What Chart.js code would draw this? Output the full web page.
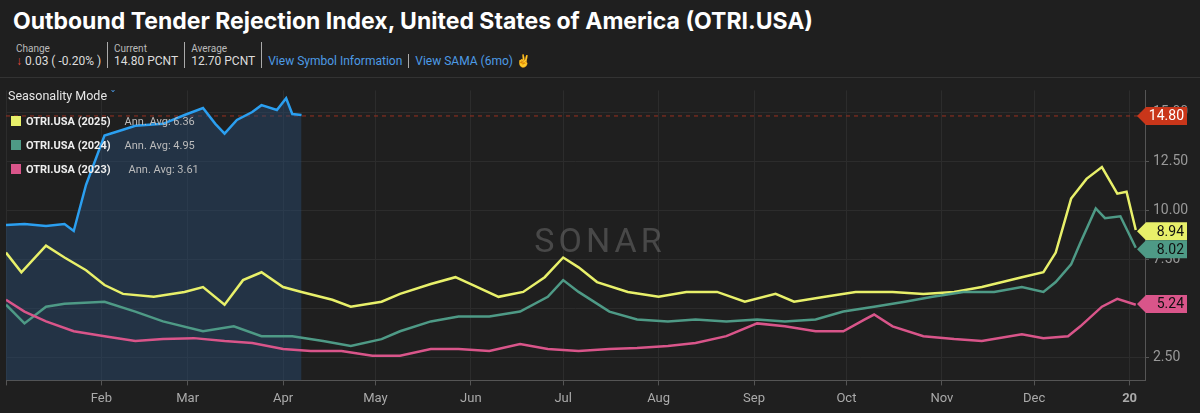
<!DOCTYPE html>
<html><head><meta charset="utf-8">
<script src="https://cdn.jsdelivr.net/npm/chart.js@4"></script>
<style>
body{margin:0;background:#1f1f1f;font-family:Roboto,"Noto Sans",sans-serif;color:#ddd;width:1200px;height:413px;overflow:hidden;position:relative}
#title{position:absolute;left:13px;top:7px;font-size:23px;font-weight:bold;color:#fff;font-family:Inter,Roboto,sans-serif}
#stats{position:absolute;left:16px;top:42px;font-size:12px;display:flex;align-items:flex-end}
.st{line-height:13px;padding-right:6px;margin-right:6px;border-right:1px solid #aaa}
.st small{font-size:10px;color:#bbb;display:block}
.lnk{color:#4d9be6;font-size:12px;padding-right:6px;margin-right:6px;border-right:1px solid #aaa;line-height:14px}
#sep{position:absolute;left:0;right:0;top:77px;border-top:1px solid #333}
#wrap{position:absolute;left:0;top:78px;width:1200px;height:335px}
#legend{position:absolute;left:8px;top:88px;font-size:11.5px;z-index:2}
#legend .h{font-size:12.5px;color:#e6e6e6;margin-bottom:6px}
#legend .r{display:flex;align-items:center;height:24px;font-weight:bold;color:#eee;font-size:11px}
#legend .sw{width:10px;height:10px;margin-right:5px;margin-left:3px}
#legend .a{font-weight:normal;color:#bbb;margin-left:14px}
</style></head><body>
<div id="title">Outbound Tender Rejection Index, United States of America (OTRI.USA)</div>
<div id="stats">
 <div class="st"><small>Change</small><span style="color:#e0473a">&#8595;</span> 0.03 ( -0.20% )</div>
 <div class="st"><small>Current</small>14.80 PCNT</div>
 <div class="st"><small>Average</small>12.70 PCNT</div>
 <div class="lnk">View Symbol Information</div>
 <div class="lnk" style="border:none">View SAMA (6mo) <span style="color:#e8d21d">&#9996;</span></div>
</div>
<div id="sep"></div>
<div id="legend">
 <div class="h">Seasonality Mode <span style="color:#4d9be6">&#711;</span></div>
 <div class="r"><div class="sw" style="background:#e8f06a"></div>OTRI.USA (2025)<span class="a">Ann. Avg: 6.36</span></div>
 <div class="r"><div class="sw" style="background:#4e9a86"></div>OTRI.USA (2024)<span class="a">Ann. Avg: 4.95</span></div>
 <div class="r"><div class="sw" style="background:#d9558a"></div>OTRI.USA (2023)<span class="a" style="margin-left:18px">Ann. Avg: 3.61</span></div>
</div>
<div id="wrap"><canvas id="c"></canvas></div>
<script>
const monthDays = [0, 31, 59, 90, 120, 151, 181, 212, 243, 273, 304, 334, 365];
const monthLabels = ['', 'Feb', 'Mar', 'Apr', 'May', 'Jun', 'Jul', 'Aug', 'Sep', 'Oct', 'Nov', 'Dec', '20'];
const yTicks = [2.5, 5, 7.5, 10, 12.5, 15];

const currentDays = [0, 6, 13, 19, 22, 26, 32, 38, 42, 51, 58, 64, 68, 71, 75, 80, 83, 88, 91, 93, 96];
const currentVals = [9.25, 9.3, 9.2, 9.3, 8.95, 11.3, 13.8, 14.1, 14.3, 14.4, 14.85, 15.2, 14.4, 13.9, 14.6, 15.0, 15.35, 15.1, 15.7, 14.9, 14.85];

const days2025 = [0, 5, 13, 19, 26, 32, 38, 48, 58, 64, 71, 77, 83, 90, 96, 106, 112, 122, 128, 138, 146, 151, 160, 168, 175, 181, 186, 192, 202, 212, 221, 231, 240, 250, 256, 266, 276, 288, 298, 308, 317, 330, 337, 341, 346, 351, 356, 361, 364, 367];
const vals2025 = [7.85, 6.85, 8.2, 7.6, 6.95, 6.2, 5.75, 5.6, 5.85, 6.1, 5.2, 6.45, 6.85, 6.1, 5.85, 5.45, 5.1, 5.35, 5.75, 6.25, 6.6, 6.25, 5.6, 5.85, 6.6, 7.6, 7.1, 6.35, 5.85, 5.6, 5.85, 5.85, 5.35, 5.75, 5.35, 5.6, 5.85, 5.85, 5.75, 5.85, 6.1, 6.6, 6.85, 7.85, 10.6, 11.6, 12.2, 10.85, 10.95, 9.0];

const days2024 = [0, 6, 13, 19, 32, 42, 51, 64, 74, 83, 93, 103, 112, 122, 128, 138, 147, 157, 167, 176, 181, 186, 196, 205, 215, 224, 234, 244, 253, 263, 272, 282, 292, 301, 311, 321, 330, 337, 341, 346, 349, 354, 357, 362, 367];
const vals2024 = [5.2, 4.25, 5.1, 5.25, 5.35, 4.85, 4.35, 3.85, 4.1, 3.6, 3.6, 3.35, 3.1, 3.45, 3.85, 4.35, 4.6, 4.6, 4.85, 5.6, 6.45, 5.85, 4.85, 4.45, 4.35, 4.45, 4.35, 4.45, 4.35, 4.45, 4.85, 5.1, 5.35, 5.6, 5.85, 5.85, 6.1, 5.85, 6.35, 7.25, 8.35, 10.1, 9.6, 9.7, 8.1];

const days2023 = [0, 6, 13, 22, 32, 42, 51, 61, 71, 80, 90, 99, 109, 119, 128, 138, 147, 157, 167, 176, 186, 196, 205, 215, 224, 234, 244, 253, 263, 272, 279, 282, 288, 298, 308, 317, 330, 337, 345, 349, 356, 361, 367];
const vals2023 = [5.45, 4.85, 4.35, 3.85, 3.6, 3.35, 3.45, 3.5, 3.35, 3.25, 2.95, 2.85, 2.85, 2.6, 2.6, 2.95, 2.95, 2.85, 3.2, 2.95, 2.85, 2.95, 3.0, 3.1, 3.25, 3.6, 4.25, 4.1, 3.85, 3.85, 4.45, 4.7, 4.1, 3.6, 3.45, 3.35, 3.7, 3.5, 3.6, 4.1, 5.1, 5.5, 5.2];

const tags = [
    { value: 14.80, bg: '#c9361a', fg: '#fff', label: '14.80' },
    { value: 8.94, bg: '#e8f06a', fg: '#111', label: '8.94' },
    { value: 8.02, bg: '#4e9a86', fg: '#111', label: '8.02' },
    { value: 5.24, bg: '#d9558a', fg: '#111', label: '5.24' }
];

const pts = (d, v) => d.map((x, i) => ({ x, y: v[i] }));

const overlay = {
    id: 'overlay',
    beforeDatasetsDraw(chart) {
        const { ctx, chartArea: a, scales: { y } } = chart;
        ctx.save();
        ctx.font = '34px Roboto, sans-serif';
        ctx.fillStyle = 'rgba(150,150,150,0.35)';
        ctx.textAlign = 'center';
        ctx.textBaseline = 'middle';
        ctx.letterSpacing = '4px';
        ctx.fillText('SONAR', 600, 165);
        ctx.restore();
        ctx.save();
        ctx.strokeStyle = '#9a3020';
        ctx.setLineDash([4, 4]);
        const py = y.getPixelForValue(14.8);
        ctx.beginPath(); ctx.moveTo(a.left, py); ctx.lineTo(a.right, py); ctx.stroke();
        ctx.restore();
    },
    afterDraw(chart) {
        const { ctx, chartArea: a, scales: { y } } = chart;
        ctx.save();
        ctx.font = '14px Roboto, sans-serif';
        ctx.textBaseline = 'middle';
        tags.forEach(t => {
            const py = y.getPixelForValue(t.value);
            const x0 = a.right - 8, w = 50, h = 18;
            ctx.fillStyle = t.bg;
            ctx.beginPath();
            ctx.moveTo(x0, py);
            ctx.lineTo(x0 + 9, py - h / 2);
            ctx.lineTo(x0 + w, py - h / 2);
            ctx.lineTo(x0 + w, py + h / 2);
            ctx.lineTo(x0 + 9, py + h / 2);
            ctx.closePath();
            ctx.fill();
            ctx.fillStyle = t.fg;
            ctx.textAlign = 'right';
            ctx.fillText(t.label, x0 + w - 3, py + 1);
        });
        ctx.restore();
    }
};

new Chart(document.getElementById('c'), {
    type: 'line',
    data: {
        datasets: [
            { data: pts(days2023, vals2023), borderColor: '#d9558a', borderWidth: 2.5 },
            { data: pts(days2024, vals2024), borderColor: '#4e9a86', borderWidth: 2.5 },
            { data: pts(days2025, vals2025), borderColor: '#e8f06a', borderWidth: 2.5 },
            { data: pts(currentDays, currentVals), borderColor: '#2b9ff0', borderWidth: 2.5,
              fill: 'start', backgroundColor: 'rgba(40,75,115,0.45)' }
        ]
    },
    options: {
        animation: false,
        responsive: true,
        maintainAspectRatio: false,
        elements: { point: { radius: 0 }, line: { tension: 0 } },
        layout: { padding: { left: 0, right: 0, top: 0, bottom: 0 } },
        plugins: { legend: { display: false }, tooltip: { enabled: false } },
        scales: {
            x: {
                type: 'linear', min: 0, max: 370,
                afterBuildTicks: s => { s.ticks = monthDays.map(v => ({ value: v })); },
                ticks: {
                    autoSkip: false, maxRotation: 0, color: '#aaa', padding: 6,
                    font: c => ({ size: 13, family: 'Roboto', weight: c.tick && c.tick.value === 365 ? 'bold' : 'normal' }),
                    callback: (v) => monthLabels[monthDays.indexOf(v)]
                },
                grid: { color: '#2c2c2c', tickLength: 5, tickColor: '#555' },
                border: { color: '#555' }
            },
            y: {
                position: 'right', min: 1.35, max: 16.1,
                afterBuildTicks: s => { s.ticks = yTicks.map(v => ({ value: v })); },
                afterFit: s => { s.width = 55; },
                ticks: { color: '#999', font: { size: 14, family: 'Roboto' }, padding: 4, callback: v => v.toFixed(2) },
                grid: { color: '#2c2c2c', tickLength: 4, tickColor: '#555' },
                border: { color: '#555' }
            }
        }
    },
    plugins: [overlay]
});
</script>
</body></html>
